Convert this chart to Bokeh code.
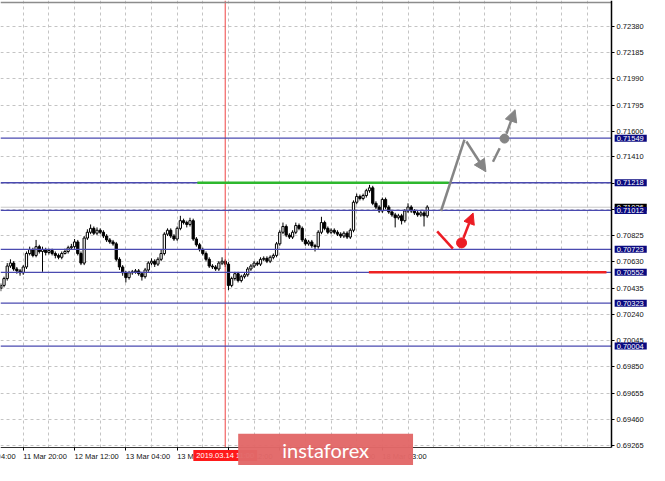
from bokeh.plotting import figure
from bokeh.models import (FixedTicker, PrintfTickFormatter, Label, Arrow, LinearAxis,
                          NormalHead, ColumnDataSource, Range1d)
from bokeh.embed import file_html
from bokeh.resources import INLINE

# ---------------- data ----------------
bar_index = list(range(134))
opens = [0.70434, 0.70455, 0.70506, 0.70599, 0.70621, 0.70577, 0.70563, 0.70549, 0.70592, 0.70692,
         0.70721, 0.70678, 0.70743, 0.70707, 0.70721, 0.70700, 0.70714, 0.70692, 0.70678, 0.70664,
         0.70692, 0.70707, 0.70735, 0.70743, 0.70778, 0.70692, 0.70621, 0.70807, 0.70850, 0.70879,
         0.70843, 0.70865, 0.70850, 0.70822, 0.70793, 0.70778, 0.70764, 0.70649, 0.70592, 0.70549,
         0.70513, 0.70549, 0.70556, 0.70563, 0.70542, 0.70520, 0.70570, 0.70621, 0.70635, 0.70613,
         0.70649, 0.70692, 0.70836, 0.70865, 0.70822, 0.70800, 0.70879, 0.70936, 0.70922, 0.70908,
         0.70936, 0.70800, 0.70757, 0.70721, 0.70692, 0.70649, 0.70599, 0.70592, 0.70577, 0.70621,
         0.70635, 0.70613, 0.70455, 0.70506, 0.70542, 0.70491, 0.70520, 0.70534, 0.70577, 0.70599,
         0.70621, 0.70613, 0.70649, 0.70656, 0.70635, 0.70664, 0.70678, 0.70764, 0.70850, 0.70893,
         0.70829, 0.70814, 0.70850, 0.70900, 0.70879, 0.70793, 0.70764, 0.70778, 0.70750, 0.70743,
         0.70850, 0.70922, 0.70879, 0.70850, 0.70865, 0.70850, 0.70836, 0.70822, 0.70843, 0.70814,
         0.70865, 0.71073, 0.71116, 0.71101, 0.71123, 0.71159, 0.71180, 0.71065, 0.71037, 0.71008,
         0.71094, 0.71037, 0.71001, 0.70979, 0.70958, 0.70972, 0.70936, 0.71008, 0.71037, 0.71008,
         0.70994, 0.70979, 0.70994, 0.70972]
highs = [0.70470, 0.70520, 0.70621, 0.70649, 0.70635, 0.70592, 0.70577, 0.70606, 0.70707, 0.70743,
         0.70735, 0.70793, 0.70757, 0.70743, 0.70735, 0.70728, 0.70728, 0.70707, 0.70692, 0.70707,
         0.70728, 0.70750, 0.70764, 0.70800, 0.70793, 0.70707, 0.70822, 0.70872, 0.70908, 0.70893,
         0.70886, 0.70879, 0.70865, 0.70836, 0.70807, 0.70793, 0.70778, 0.70664, 0.70606, 0.70563,
         0.70563, 0.70570, 0.70577, 0.70577, 0.70556, 0.70585, 0.70635, 0.70656, 0.70649, 0.70664,
         0.70721, 0.70850, 0.70879, 0.70879, 0.70836, 0.70893, 0.70972, 0.70951, 0.70936, 0.70958,
         0.70951, 0.70814, 0.70771, 0.70735, 0.70707, 0.70664, 0.70613, 0.70606, 0.70635, 0.70664,
         0.70649, 0.70628, 0.70520, 0.70556, 0.70556, 0.70534, 0.70549, 0.70592, 0.70613, 0.70635,
         0.70635, 0.70664, 0.70671, 0.70671, 0.70678, 0.70692, 0.70778, 0.70865, 0.70922, 0.70908,
         0.70843, 0.70865, 0.70922, 0.70915, 0.70893, 0.70807, 0.70793, 0.70793, 0.70764, 0.70865,
         0.70965, 0.70936, 0.70893, 0.70879, 0.70879, 0.70865, 0.70850, 0.70857, 0.70857, 0.70879,
         0.71087, 0.71137, 0.71130, 0.71137, 0.71173, 0.71202, 0.71195, 0.71080, 0.71051, 0.71108,
         0.71108, 0.71051, 0.71015, 0.70994, 0.70987, 0.70987, 0.71022, 0.71065, 0.71051, 0.71022,
         0.71008, 0.71008, 0.71008, 0.71051]
lows = [0.70412, 0.70441, 0.70491, 0.70585, 0.70563, 0.70542, 0.70527, 0.70534, 0.70577, 0.70678,
        0.70664, 0.70664, 0.70692, 0.70556, 0.70678, 0.70685, 0.70678, 0.70656, 0.70649, 0.70649,
        0.70685, 0.70692, 0.70721, 0.70728, 0.70678, 0.70606, 0.70606, 0.70793, 0.70836, 0.70829,
        0.70829, 0.70836, 0.70807, 0.70778, 0.70764, 0.70750, 0.70635, 0.70570, 0.70527, 0.70477,
        0.70498, 0.70534, 0.70542, 0.70527, 0.70491, 0.70506, 0.70556, 0.70606, 0.70592, 0.70599,
        0.70635, 0.70678, 0.70822, 0.70807, 0.70786, 0.70786, 0.70865, 0.70908, 0.70886, 0.70893,
        0.70786, 0.70743, 0.70707, 0.70678, 0.70635, 0.70585, 0.70577, 0.70563, 0.70563, 0.70606,
        0.70592, 0.70420, 0.70441, 0.70491, 0.70477, 0.70477, 0.70506, 0.70520, 0.70563, 0.70585,
        0.70599, 0.70599, 0.70635, 0.70621, 0.70621, 0.70649, 0.70664, 0.70750, 0.70836, 0.70814,
        0.70800, 0.70800, 0.70836, 0.70865, 0.70778, 0.70750, 0.70750, 0.70735, 0.70707, 0.70728,
        0.70836, 0.70865, 0.70836, 0.70836, 0.70836, 0.70822, 0.70807, 0.70807, 0.70800, 0.70800,
        0.70850, 0.71058, 0.71087, 0.71087, 0.71108, 0.71144, 0.71051, 0.71022, 0.70994, 0.70994,
        0.71022, 0.70987, 0.70965, 0.70886, 0.70944, 0.70908, 0.70922, 0.70994, 0.70994, 0.70979,
        0.70965, 0.70965, 0.70893, 0.70958]
closes = [0.70455, 0.70506, 0.70599, 0.70621, 0.70577, 0.70563, 0.70549, 0.70592, 0.70692, 0.70721,
          0.70678, 0.70743, 0.70707, 0.70721, 0.70700, 0.70714, 0.70692, 0.70678, 0.70664, 0.70692,
          0.70707, 0.70735, 0.70743, 0.70778, 0.70692, 0.70621, 0.70807, 0.70850, 0.70879, 0.70843,
          0.70865, 0.70850, 0.70822, 0.70793, 0.70778, 0.70764, 0.70649, 0.70592, 0.70549, 0.70513,
          0.70549, 0.70556, 0.70563, 0.70542, 0.70520, 0.70570, 0.70621, 0.70635, 0.70613, 0.70649,
          0.70692, 0.70836, 0.70865, 0.70822, 0.70800, 0.70879, 0.70936, 0.70922, 0.70908, 0.70936,
          0.70800, 0.70757, 0.70721, 0.70692, 0.70649, 0.70599, 0.70592, 0.70577, 0.70621, 0.70635,
          0.70613, 0.70455, 0.70506, 0.70542, 0.70491, 0.70520, 0.70534, 0.70577, 0.70599, 0.70621,
          0.70613, 0.70649, 0.70656, 0.70635, 0.70664, 0.70678, 0.70764, 0.70850, 0.70893, 0.70829,
          0.70814, 0.70850, 0.70900, 0.70879, 0.70793, 0.70764, 0.70778, 0.70750, 0.70743, 0.70850,
          0.70922, 0.70879, 0.70850, 0.70865, 0.70850, 0.70836, 0.70822, 0.70843, 0.70814, 0.70865,
          0.71073, 0.71116, 0.71101, 0.71123, 0.71159, 0.71180, 0.71065, 0.71037, 0.71008, 0.71094,
          0.71037, 0.71001, 0.70979, 0.70958, 0.70972, 0.70936, 0.71008, 0.71037, 0.71008, 0.70994,
          0.70979, 0.70994, 0.70972, 0.71037]

price_ticks = [0.69265, 0.69460, 0.69655, 0.69850, 0.70045, 0.70240, 0.70435, 0.70630, 0.70825,
               0.71020, 0.71215, 0.71410, 0.71600, 0.71795, 0.71990, 0.72185, 0.72380]
time_ticks = [-9, 7, 23, 39, 55, 71, 87, 103, 119]
time_labels = ["11 Mar 04:00", "11 Mar 20:00", "12 Mar 12:00", "13 Mar 04:00", "13 Mar 20:00",
               "14 Mar 12:00", "15 Mar 04:00", "15 Mar 20:00", "18 Mar 03:00"]
grid_bars = [7, 15, 23, 31, 39, 47, 55, 63, 71, 79, 87, 95, 103, 111, 119, 127, 135, 143, 151,
             159, 167, 175, 183]

level_prices = [0.71549, 0.71218, 0.71012, 0.70723, 0.70552, 0.70323, 0.70004]
level_labels = ["0.71549", "0.71218", "0.71012", "0.70723", "0.70552", "0.70323", "0.70004"]
bid_price = 0.71036
bid_label = "0.71036"
vline_bar = 70
vline_label = "2019.03.14 11:00"

green_x = [61.3, 139.7]
green_y = [0.71218, 0.71218]
redline_x = [114.8, 188.9]
redline_y = [0.70552, 0.70552]

gray_up_x = [137.3, 144.6]
gray_up_y = [0.71008, 0.71538]
gray_down_arrow = [145.2, 0.71524, 151.3, 0.71300]
gray_dash_x = [153.5, 155.6]
gray_dash_y = [0.71374, 0.71474]
gray_dot = [157.1, 0.71546]
gray_up_arrow = [157.7, 0.71582, 160.4, 0.71761]

red_down_x = [136.1, 141.0]
red_down_y = [0.70857, 0.70728]
red_dot = [143.7, 0.70771]
red_up_arrow = [144.3, 0.70807, 147.3, 0.70993]

watermark_text = "instaforex"

# ---------------- layout constants (chart window inside the canvas) ----------------
X0, X1 = -0.1, 190.5          # chart window in bars
XC = 202.32                   # canvas right edge in bars (room for price scale)
Y0, Y1 = 0.69251, 0.72557     # chart window in price
YB, YT = 0.69117, 0.72572     # canvas bottom / top in price (room for time scale)
Y_TIME = 0.69184              # middle of time labels
Y_DATEBOX = 0.69192
Y_WATERMARK = 0.69231
X_PRICEBOX = 191.45

FONT = "Liberation Sans"
p = figure(width=649, height=465, x_range=Range1d(X0, XC), y_range=Range1d(YB, YT),
           toolbar_location=None, output_backend="svg",
           min_border_left=0, min_border_right=0, min_border_top=0, min_border_bottom=0,
           x_axis_location=None, y_axis_location=None)
p.outline_line_color = None
p.background_fill_color = "white"
p.border_fill_color = "white"

# grid
p.xgrid.ticker = FixedTicker(ticks=grid_bars)
p.ygrid.ticker = FixedTicker(ticks=price_ticks)
for g in (p.xgrid, p.ygrid):
    g.grid_line_color = "#c4c4c4"
    g.grid_line_dash = "3 3"
    g.grid_line_width = 1

# white mask for the scale areas (grid stays inside the chart window)
p.quad(left=[X1, X0], right=[XC, XC], bottom=[YB, YB], top=[YT, Y0],
       fill_color="white", line_color=None)

# price axis (right), drawn at the chart window edge
yax = LinearAxis(fixed_location=X1, bounds=(Y0, YT))
yax.ticker = FixedTicker(ticks=price_ticks)
yax.formatter = PrintfTickFormatter(format="%.5f")
yax.major_label_text_font = FONT
yax.major_label_text_font_size = "7.5px"
yax.major_label_text_color = "#111111"
yax.major_label_standoff = 2
yax.major_tick_out = 3
yax.major_tick_in = 0
yax.minor_tick_line_color = None
yax.axis_line_color = "black"
yax.axis_line_width = 1.5
p.add_layout(yax, "right")

# time axis (below), drawn at the chart window bottom
xax = LinearAxis(fixed_location=Y0, bounds=(X0, X1))
xax.ticker = FixedTicker(ticks=time_ticks)
xax.major_label_overrides = {t: "" for t in time_ticks}
xax.major_label_text_font_size = "1px"
xax.major_tick_out = 3
xax.major_tick_in = 0
xax.minor_tick_line_color = None
xax.axis_line_color = "#333333"
p.add_layout(xax, "below")

# top border (an axis line without ticks, at the top of the chart window)
tax = LinearAxis(fixed_location=Y1, bounds=(X0, X1))
tax.ticker = FixedTicker(ticks=[])
tax.major_tick_line_color = None
tax.minor_tick_line_color = None
tax.major_label_text_font_size = "1px"
tax.axis_line_color = "#8c8c8c"
tax.axis_line_width = 1.5
p.add_layout(tax, "above")

# bid line
p.segment(x0=[X0], y0=[bid_price], x1=[X1], y1=[bid_price], line_color="#c8c8c8", line_width=1)

# candles
tops = [max(o, c) for o, c in zip(opens, closes)]
bottoms = [min(o, c) for o, c in zip(opens, closes)]
fills = ["white" if c > o else "black" for o, c in zip(opens, closes)]
src = ColumnDataSource(dict(x=bar_index, o=opens, h=highs, l=lows, c=closes,
                            top=tops, bottom=bottoms, fill=fills))
p.segment(x0="x", y0="l", x1="x", y1="h", source=src, line_color="black", line_width=1)
p.vbar(x="x", width=0.7, top="top", bottom="bottom", source=src, fill_color="fill",
       line_color="black", line_width=1)

# vertical line
p.segment(x0=[vline_bar], y0=[Y0], x1=[vline_bar], y1=[YT], line_color="#f04848",
          line_width=1.2, line_alpha=0.85)

# level lines
p.segment(x0=[X0] * len(level_prices), y0=level_prices, x1=[X1] * len(level_prices),
          y1=level_prices, line_color="#4a4ab0", line_width=1.3)

# green and red horizontal segments
p.line(green_x, green_y, line_color="#2eb82e", line_width=2.5)
p.line(redline_x, redline_y, line_color="#ee2222", line_width=2.5)

# gray forecast
GRAY = "#858585"
p.line(gray_up_x, gray_up_y, line_color=GRAY, line_width=2.5)
p.add_layout(Arrow(x_start=gray_down_arrow[0], y_start=gray_down_arrow[1],
                   x_end=gray_down_arrow[2], y_end=gray_down_arrow[3], line_color=GRAY,
                   line_width=2.5, end=NormalHead(size=12, fill_color=GRAY, line_color=GRAY)))
p.line(gray_dash_x, gray_dash_y, line_color=GRAY, line_width=2.5)
p.scatter([gray_dot[0]], [gray_dot[1]], size=9, fill_color=GRAY, line_color=GRAY)
p.add_layout(Arrow(x_start=gray_up_arrow[0], y_start=gray_up_arrow[1],
                   x_end=gray_up_arrow[2], y_end=gray_up_arrow[3], line_color=GRAY,
                   line_width=2.5, end=NormalHead(size=12, fill_color=GRAY, line_color=GRAY)))

# red forecast
RED = "#ec1c24"
p.line(red_down_x, red_down_y, line_color=RED, line_width=2.5)
p.scatter([red_dot[0]], [red_dot[1]], size=10, fill_color=RED, line_color=RED)
p.add_layout(Arrow(x_start=red_up_arrow[0], y_start=red_up_arrow[1],
                   x_end=red_up_arrow[2], y_end=red_up_arrow[3], line_color=RED,
                   line_width=2.5, end=NormalHead(size=11, fill_color=RED, line_color=RED)))

# time labels, left aligned at their tick as in the terminal
for t, lab in zip(time_ticks, time_labels):
    p.add_layout(Label(x=t, y=Y_TIME, text=lab, text_align="left", text_baseline="middle",
                       text_font=FONT, text_font_size="7.5px", text_color="#111111"))

# vertical line date box
p.add_layout(Label(x=vline_bar, y=Y_DATEBOX, text=vline_label, text_align="center",
                   text_baseline="middle", text_font=FONT, text_font_size="7.5px",
                   text_color="white", background_fill_color="#ff1a1a",
                   padding=dict(left=3, right=3, top=1, bottom=1)))

# price boxes on the scale
p.add_layout(Label(x=X_PRICEBOX, y=bid_price, text=bid_label, text_align="left",
                   text_baseline="middle", text_font=FONT, text_font_size="7.5px",
                   text_color="white", background_fill_color="black",
                   padding=dict(left=2, right=3, top=1, bottom=1)))
for lv, lab in zip(level_prices, level_labels):
    p.add_layout(Label(x=X_PRICEBOX, y=lv, text=lab, text_align="left", text_baseline="middle",
                       text_font=FONT, text_font_size="7.5px", text_color="white",
                       background_fill_color="#0a0a80",
                       padding=dict(left=2, right=3, top=1, bottom=1)))

# watermark
p.add_layout(Label(x=101.3, y=Y_WATERMARK, text=watermark_text, text_align="center",
                   text_baseline="middle", text_font="Lato", text_font_size="20px",
                   text_color="white", background_fill_color="#e26868",
                   background_fill_alpha=0.97,
                   padding=dict(left=44, right=44, top=4, bottom=5), level="overlay"))

open("out.html", "w").write(file_html(p, INLINE))
